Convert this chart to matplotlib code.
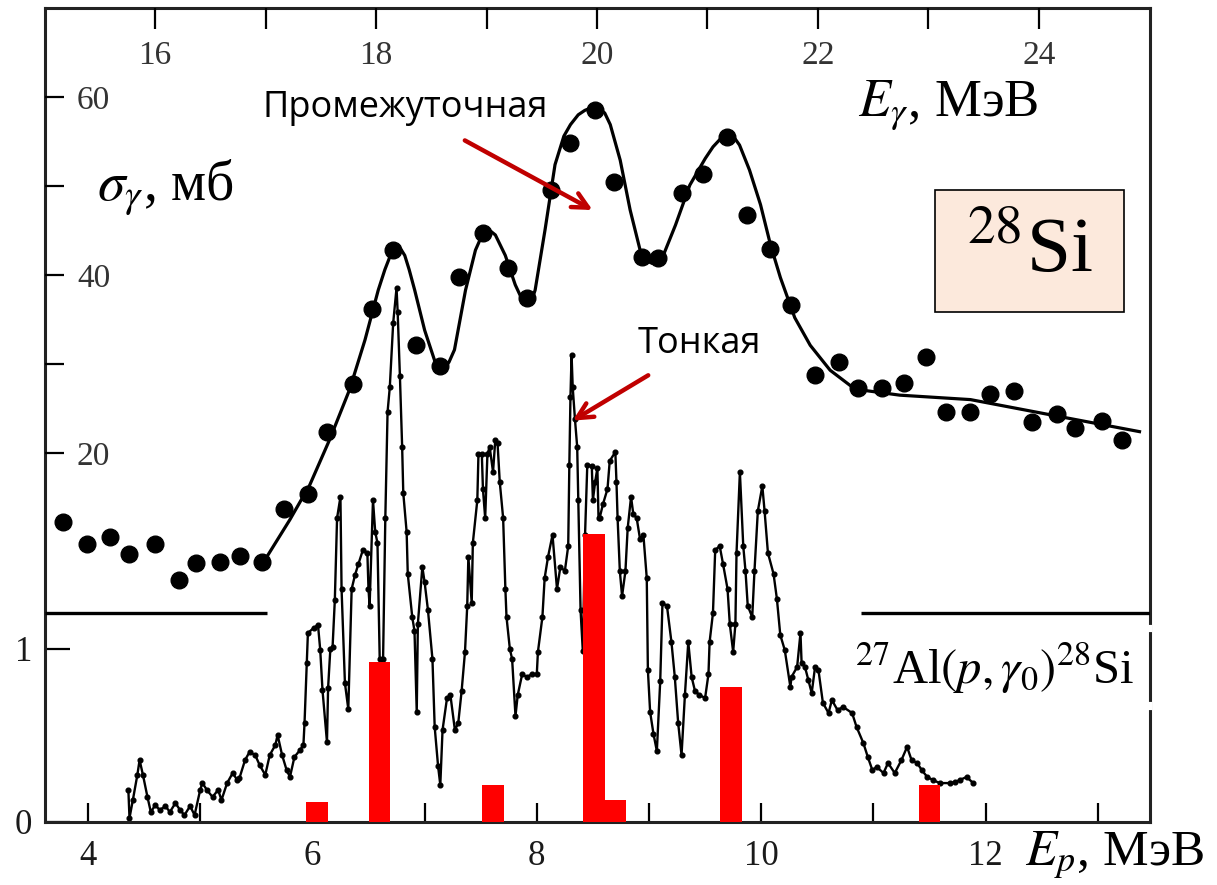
import matplotlib
matplotlib.use('Agg')
import matplotlib.pyplot as plt
from matplotlib.patches import Rectangle

plt.rcParams['mathtext.fontset'] = 'stix'
plt.rcParams['font.family'] = ['Liberation Serif', 'DejaVu Serif']

# photoabsorption cross section sigma_gamma (mb) vs E_gamma (MeV), measured points
e_gamma = [15.17, 15.38, 15.59, 15.76, 16.00, 16.22, 16.37, 16.59, 16.77, 16.97,
           17.17, 17.38, 17.56, 17.79, 17.96, 18.15, 18.36, 18.58, 18.75, 18.97,
           19.19, 19.37, 19.58, 19.76, 19.98, 20.15, 20.41, 20.55, 20.77, 20.96,
           21.18, 21.36, 21.57, 21.76, 21.97, 22.19, 22.36, 22.58, 22.78, 22.98,
           23.16, 23.38, 23.56, 23.77, 23.94, 24.16, 24.33, 24.57, 24.75]
sigma = [12.2, 9.8, 10.6, 8.7, 9.8, 5.7, 7.6, 7.8, 8.4, 7.8,
         13.7, 15.4, 22.4, 27.8, 36.2, 42.8, 32.1, 29.8, 39.8, 44.7,
         40.8, 37.4, 49.6, 54.8, 58.5, 50.4, 42.0, 41.9, 49.2, 51.3,
         55.5, 46.7, 42.9, 36.6, 28.8, 30.2, 27.3, 27.3, 27.9, 30.8,
         24.6, 24.6, 26.6, 27.0, 23.5, 24.4, 22.8, 23.6, 21.5]

# smooth fit through the cross section
e_fit = [17.02, 17.22, 17.40, 17.58, 17.76, 17.90, 18.02, 18.08, 18.13, 18.17,
         18.20, 18.23, 18.26, 18.30, 18.35, 18.44, 18.53, 18.58, 18.62, 18.66,
         18.71, 18.81, 18.90, 18.95, 18.99, 19.04, 19.08, 19.17, 19.26, 19.32,
         19.37, 19.41, 19.44, 19.53, 19.62, 19.70, 19.76, 19.83, 19.89, 19.95,
         20.01, 20.07, 20.12, 20.21, 20.30, 20.39, 20.45, 20.50, 20.55, 20.59,
         20.71, 20.84, 20.98, 21.05, 21.11, 21.16, 21.20, 21.25, 21.29, 21.38,
         21.48, 21.57, 21.66, 21.79, 21.93, 22.11, 22.29, 22.38, 22.74, 23.38,
         24.10, 24.91]
sigma_fit = [8.5, 12.5, 16.4, 21.5, 27.1, 32.7, 38.3, 40.6, 42.2, 42.9,
             43.0, 42.8, 42.2, 40.6, 38.3, 33.8, 30.4, 29.7, 29.6, 30.2,
             31.6, 38.3, 42.8, 44.2, 44.8, 44.9, 44.5, 42.2, 38.9, 37.3,
             36.9, 37.2, 38.3, 45.1, 52.4, 55.6, 56.9, 58.0, 58.5, 58.8,
             58.8, 58.2, 56.9, 52.9, 47.3, 42.8, 41.6, 41.3, 41.4, 41.9,
             45.6, 50.1, 53.1, 54.4, 55.2, 55.5, 55.6, 55.3, 54.6, 51.8,
             47.9, 43.4, 39.7, 35.2, 32.1, 29.3, 27.6, 27.1, 26.5, 26.0,
             24.3, 22.4]

# 27Al(p, gamma0)28Si yield vs proton energy E_p (MeV)
e_p = [4.36, 4.37, 4.40, 4.44, 4.46, 4.49, 4.53, 4.56, 4.60, 4.64,
       4.69, 4.73, 4.78, 4.82, 4.86, 4.91, 4.95, 5.00, 5.02, 5.06,
       5.11, 5.16, 5.19, 5.24, 5.29, 5.33, 5.35, 5.40, 5.44, 5.49,
       5.53, 5.58, 5.62, 5.67, 5.69, 5.73, 5.77, 5.80, 5.84, 5.89,
       5.92, 5.93, 5.95, 5.96, 6.01, 6.05, 6.07, 6.09, 6.13, 6.14,
       6.16, 6.18, 6.20, 6.22, 6.25, 6.26, 6.29, 6.32, 6.35, 6.38,
       6.41, 6.45, 6.49, 6.50, 6.51, 6.54, 6.56, 6.58, 6.60, 6.63,
       6.65, 6.67, 6.69, 6.72, 6.75, 6.76, 6.78, 6.80, 6.81, 6.84,
       6.85, 6.89, 6.91, 6.93, 6.94, 6.98, 7.00, 7.03, 7.07, 7.09,
       7.12, 7.14, 7.16, 7.20, 7.23, 7.27, 7.30, 7.33, 7.36, 7.38,
       7.39, 7.42, 7.43, 7.47, 7.48, 7.51, 7.52, 7.54, 7.56, 7.58,
       7.61, 7.63, 7.65, 7.67, 7.70, 7.72, 7.73, 7.76, 7.78, 7.81,
       7.83, 7.87, 7.91, 7.96, 8.00, 8.01, 8.05, 8.07, 8.10, 8.14,
       8.18, 8.21, 8.25, 8.28, 8.29, 8.30, 8.31, 8.32, 8.34, 8.36,
       8.37, 8.39, 8.41, 8.43, 8.45, 8.49, 8.50, 8.52, 8.54, 8.55,
       8.56, 8.59, 8.63, 8.65, 8.70, 8.71, 8.72, 8.74, 8.76, 8.79,
       8.81, 8.84, 8.86, 8.89, 8.92, 8.95, 8.98, 8.99, 9.01, 9.04,
       9.07, 9.10, 9.12, 9.16, 9.20, 9.23, 9.26, 9.29, 9.32, 9.35,
       9.38, 9.41, 9.45, 9.50, 9.53, 9.54, 9.57, 9.59, 9.63, 9.66,
       9.70, 9.72, 9.75, 9.77, 9.78, 9.81, 9.84, 9.86, 9.88, 9.92,
       9.94, 9.97, 10.01, 10.03, 10.06, 10.11, 10.14, 10.17, 10.21, 10.26,
       10.27, 10.32, 10.35, 10.36, 10.39, 10.42, 10.45, 10.48, 10.51, 10.55,
       10.60, 10.63, 10.68, 10.73, 10.81, 10.85, 10.91, 10.95, 10.99, 11.03,
       11.09, 11.13, 11.19, 11.25, 11.30, 11.34, 11.39, 11.43, 11.48, 11.53,
       11.59, 11.68, 11.73, 11.77, 11.83, 11.89]
yield_p = [0.185, 0.023, 0.127, 0.272, 0.358, 0.272, 0.145, 0.058, 0.098, 0.069,
           0.092, 0.058, 0.110, 0.069, 0.040, 0.092, 0.040, 0.185, 0.225, 0.185,
           0.145, 0.185, 0.127, 0.225, 0.283, 0.243, 0.254, 0.358, 0.405, 0.387,
           0.329, 0.272, 0.387, 0.445, 0.503, 0.387, 0.301, 0.260, 0.376, 0.416,
           0.445, 0.572, 0.919, 1.092, 1.121, 1.139, 0.994, 0.763, 0.462, 0.775,
           1.000, 1.012, 1.283, 1.757, 1.879, 1.347, 0.803, 0.653, 1.347, 1.428,
           1.491, 1.572, 1.555, 1.347, 1.249, 1.861, 1.676, 1.613, 0.942, 0.942,
           1.757, 2.370, 2.514, 2.884, 3.087, 2.948, 2.578, 2.168, 1.902, 1.676,
           1.434, 1.185, 1.104, 0.636, 1.145, 1.474, 1.387, 1.225, 0.942, 0.549,
           0.324, 0.214, 0.532, 0.717, 0.734, 0.532, 0.572, 0.757, 0.983, 1.249,
           1.532, 1.266, 1.613, 1.861, 2.127, 2.127, 1.925, 1.757, 2.127, 2.168,
           2.023, 2.208, 2.191, 1.965, 1.757, 1.347, 1.185, 1.000, 0.942, 0.613,
           0.734, 0.855, 0.838, 0.855, 0.855, 0.983, 1.185, 1.410, 1.532, 1.659,
           1.347, 1.474, 1.451, 1.595, 2.064, 2.457, 2.699, 2.514, 2.329, 2.168,
           1.861, 1.225, 0.988, 1.659, 2.064, 2.058, 1.861, 1.965, 2.046, 1.757,
           1.757, 1.838, 1.925, 2.087, 2.139, 1.965, 1.757, 1.451, 1.306, 1.451,
           1.699, 1.879, 1.780, 1.757, 1.636, 1.659, 1.410, 0.879, 0.636, 0.509,
           0.410, 0.815, 1.266, 1.249, 1.040, 0.838, 0.572, 0.387, 0.734, 1.040,
           0.838, 0.757, 0.734, 0.717, 0.855, 1.040, 1.208, 1.572, 1.595, 1.491,
           1.347, 1.145, 0.983, 1.145, 1.555, 2.023, 1.595, 1.451, 1.249, 1.185,
           1.451, 1.798, 1.942, 1.798, 1.555, 1.434, 1.289, 1.081, 0.994, 0.780,
           0.838, 0.896, 1.092, 0.919, 0.896, 0.821, 0.746, 0.896, 0.879, 0.688,
           0.630, 0.705, 0.647, 0.665, 0.630, 0.549, 0.457, 0.376, 0.301, 0.318,
           0.283, 0.341, 0.283, 0.358, 0.434, 0.358, 0.341, 0.301, 0.260, 0.243,
           0.225, 0.225, 0.231, 0.243, 0.260, 0.225]

# red bars (resonance strengths)
bar_e = [6.04, 6.60, 7.61, 8.51, 8.70, 9.73, 11.50]
bar_h = [0.116, 0.925, 0.214, 1.665, 0.127, 0.78, 0.214]

ep_ticks = [4, 5, 6, 7, 8, 9, 10, 11, 12, 13]
ep_labels = ['4', '', '6', '', '8', '', '10', '', '12', '']
eg_ticks = [16, 17, 18, 19, 20, 21, 22, 23, 24]
eg_labels = ['16', '', '18', '', '20', '', '22', '', '24']
sig_ticks = [20, 30, 40, 50, 60]
sig_labels = ['20', '', '40', '', '60']

W, H = 1217, 885
fig = plt.figure(figsize=(W / 100, H / 100), dpi=100)
rect = [45 / W, (H - 822) / H, 1105 / W, 814 / H]

ax = fig.add_axes(rect)
ax2 = fig.add_axes(rect, facecolor='none')

ink = '#1a1a1a'

# lower panel: Ep scale
ax.set_xlim(3.617, 13.465)
ax.set_ylim(0, 4.705)
ax.plot(e_p, yield_p, '-o', color='black', lw=1.7, ms=3.4, zorder=2)
ax.bar(bar_e, bar_h, width=0.19, color='#ff0000', zorder=4)
ax.hlines(1.21, 3.617, 5.595, color='black', lw=2.4, zorder=3)
ax.hlines(1.21, 10.89, 13.465, color='black', lw=2.4, zorder=3)
ax.set_xticks(ep_ticks)
ax.set_xticklabels(ep_labels)
ax.set_yticks([0, 1])
ax.tick_params(axis='x', direction='in', length=14, width=1.6, pad=13,
               labelsize=25, labelcolor=ink)
ax.tick_params(axis='y', direction='in', length=18, width=1.6, pad=9,
               labelsize=25, labelcolor=ink)
for s in ax.spines.values():
    s.set_linewidth(2.2)
    s.set_color('#222222')
# small breaks in the right frame line
ax.axvline(13.465, 0.236, 0.240, color='white', lw=3, zorder=5, clip_on=False)
ax.axvline(13.465, 0.140, 0.145, color='white', lw=3, zorder=5, clip_on=False)

# upper panel: E_gamma scale
ax2.set_xlim(15.004, 25.005)
ax2.set_ylim(-21.46, 70.0)
ax2.plot(e_fit, sigma_fit, color='black', lw=2.3, zorder=3)
ax2.plot(e_gamma, sigma, 'o', color='black', ms=12, zorder=3)
ax2.xaxis.tick_top()
ax2.set_xticks(eg_ticks)
ax2.set_xticklabels(eg_labels)
ax2.set_yticks(sig_ticks)
ax2.set_yticklabels(sig_labels)
ax2.tick_params(axis='x', direction='in', length=15, width=1.6, pad=-45,
                labelsize=24, labelcolor='#333333')
ax2.tick_params(axis='y', direction='in', length=14, width=1.6, pad=-47,
                labelsize=24, labelcolor='#333333')
for s in ax2.spines.values():
    s.set_visible(False)

# labels
ax.text(0.047, 0.779, r'$\sigma_\gamma$, мб', transform=ax.transAxes,
        fontsize=40, ha='left', va='center')
ax.text(0.736, 0.881, r'$E_\gamma$, МэВ', transform=ax.transAxes,
        fontsize=38, ha='left', va='center')
ax.text(0.887, -0.0405, r'$E_p$, МэВ', transform=ax.transAxes,
        fontsize=37, ha='left', va='center', clip_on=False)
ax.text(0.733, 0.189, r'$^{27}$Al$(p,\gamma_0)^{28}$Si', transform=ax.transAxes,
        fontsize=35, ha='left', va='center')

box = Rectangle((0.8054, 0.6265), 0.171, 0.150, transform=ax.transAxes,
                facecolor='#fce9dc', edgecolor='black', lw=1.2, zorder=5)
ax.add_patch(box)
ax.text(0.891, 0.700, r'$^{28}$Si', transform=ax.transAxes, fontsize=57,
        ha='center', va='center', zorder=6)

sans = ['Open Sans', 'DejaVu Sans']
ax2.annotate('Промежуточная', xy=(19.96, 47.3), xytext=(18.26, 58.8),
             fontsize=26, family=sans, ha='center', va='center', zorder=6,
             arrowprops=dict(arrowstyle='->', color='#c00000', lw=3.2,
                             mutation_scale=28, shrinkA=18, shrinkB=0))
ax.annotate('Тонкая', xy=(8.32, 2.32), xytext=(9.45, 2.76),
            fontsize=26, family=sans, ha='center', va='center', zorder=6,
            arrowprops=dict(arrowstyle='->', color='#c00000', lw=3.2,
                            mutation_scale=28, shrinkA=14, shrinkB=0))

fig.savefig('out.png', dpi=100)
